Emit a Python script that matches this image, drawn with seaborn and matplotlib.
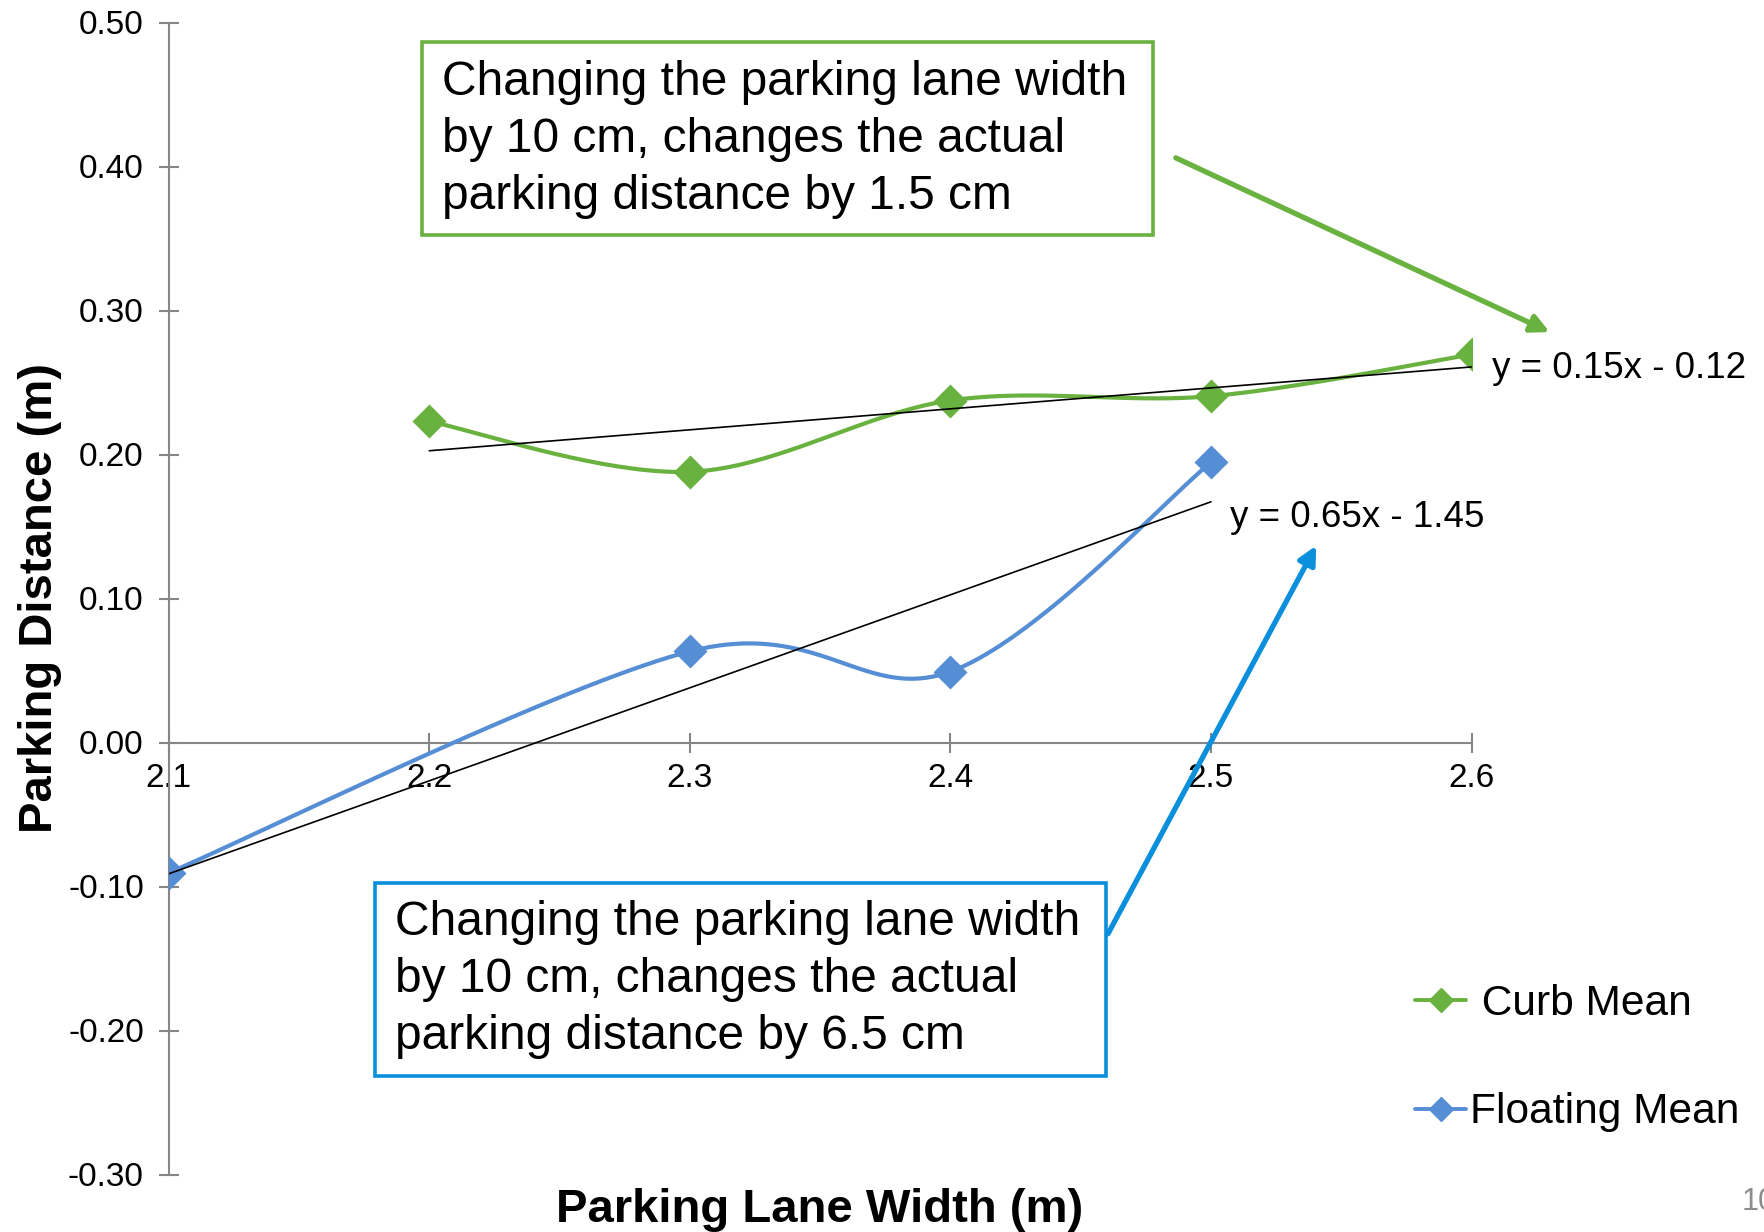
import numpy as np
import pandas as pd
import seaborn as sns
import matplotlib
matplotlib.use("Agg")
import matplotlib.pyplot as plt
from matplotlib.patches import Rectangle
from matplotlib.lines import Line2D

# ---------------- data ----------------
curb_x = [2.2, 2.3, 2.4, 2.5, 2.6]
curb_y = [0.223, 0.188, 0.2375, 0.2405, 0.2695]
float_x = [2.1, 2.3, 2.4, 2.5]
float_y = [-0.0905, 0.0633, 0.0492, 0.1945]
x_ticks = [2.1, 2.2, 2.3, 2.4, 2.5, 2.6]
y_ticks = [-0.30, -0.20, -0.10, 0.00, 0.10, 0.20, 0.30, 0.40, 0.50]
series_names = ["Curb Mean", "Floating Mean"]
curb_eq = "y = 0.15x - 0.12"
float_eq = "y = 0.65x - 1.45"
green_note = "Changing the parking lane width\nby 10 cm, changes the actual\nparking distance by 1.5 cm"
blue_note = "Changing the parking lane width\nby 10 cm, changes the actual\nparking distance by 6.5 cm"

GREEN = "#6AB23F"
BLUE = "#558ED5"
BLUE_BOX = "#0A8FDC"
GREY = "#868686"

sns.set_theme(style="white")
plt.rcParams["font.family"] = ["Liberation Sans", "DejaVu Sans"]
plt.rcParams["text.color"] = "black"
plt.rcParams["axes.labelcolor"] = "black"

fig = plt.figure(figsize=(17.64, 12.32), dpi=100)
ax = fig.add_axes([168.75 / 1764, 1 - 1174.5 / 1232, (1471.5 - 168.75) / 1764, (1174.5 - 22.5) / 1232])


def smooth(xs, ys, n=40):
    """Catmull-Rom style smoothing (as Excel smoothed lines)."""
    P = np.column_stack([xs, ys]).astype(float)
    out = []
    for i in range(len(P) - 1):
        p0 = P[i - 1] if i > 0 else P[i]
        p1 = P[i]
        p2 = P[i + 1]
        p3 = P[i + 2] if i + 2 < len(P) else P[i + 1]
        c1 = p1 + (p2 - p0) / 6.0
        c2 = p2 - (p3 - p1) / 6.0
        t = np.linspace(0, 1, n)[:, None]
        seg = ((1 - t) ** 3) * p1 + 3 * ((1 - t) ** 2) * t * c1 + 3 * (1 - t) * t ** 2 * c2 + t ** 3 * p2
        out.append(seg if i == 0 else seg[1:])
    return np.vstack(out)


for xs, ys, col in [(curb_x, curb_y, GREEN), (float_x, float_y, BLUE)]:
    s = smooth(xs, ys)
    ax.plot(s[:, 0], s[:, 1], color=col, lw=3.0, solid_capstyle="round", zorder=3)
    sns.scatterplot(x=xs, y=ys, ax=ax, marker="D", s=300, color=col, edgecolor=col, linewidth=0, zorder=4)

# linear trendlines
for xs, ys in [(curb_x, curb_y), (float_x, float_y)]:
    k, b = np.polyfit(xs, ys, 1)
    xx = np.array([min(xs), max(xs)])
    ax.plot(xx, k * xx + b, color="black", lw=1.2, zorder=5)

ax.text(2.6078, 0.260, curb_eq, fontsize=26.5, va="center", ha="left", clip_on=False)
ax.text(2.5072, 0.156, float_eq, fontsize=26.5, va="center", ha="left", clip_on=False)

ax.set_xlim(2.1, 2.6)
ax.set_ylim(-0.30, 0.50)
ax.set_xticks(x_ticks)
ax.set_xticklabels([f"{v:.1f}" for v in x_ticks])
ax.set_yticks(y_ticks)
ax.set_yticklabels([f"{v:.2f}" for v in y_ticks])

for sp in ["top", "right"]:
    ax.spines[sp].set_visible(False)
ax.spines["bottom"].set_position(("data", 0))
for sp in ["left", "bottom"]:
    ax.spines[sp].set_color(GREY)
    ax.spines[sp].set_linewidth(1.5)
ax.tick_params(axis="both", bottom=True, left=True, direction="inout", length=14, width=1.5,
               color=GREY, labelsize=24, labelcolor="black")
ax.tick_params(axis="x", pad=8)
ax.tick_params(axis="y", pad=11)
ax.grid(False)
ax.patch.set_alpha(0)

fig.text(820 / 1764, 1 - 1210 / 1232, "Parking Lane Width (m)", fontsize=34, fontweight="bold", ha="center", va="center")
fig.text(40 / 1764, 1 - 598 / 1232, "Parking Distance (m)", fontsize=34, fontweight="bold", ha="center", va="center", rotation=90)

# note boxes
ax.add_patch(Rectangle((2.1971, 0.3523), 2.4778 - 2.1971, 0.4867 - 0.3523, fill=False, edgecolor=GREEN, lw=2.6, zorder=6, clip_on=False))
ax.text(2.2049, 0.4187, green_note, fontsize=34.5, ha="left", va="center", linespacing=1.34, zorder=7)
ax.add_patch(Rectangle((2.179, -0.2313), 2.4597 - 2.179, -0.0977 + 0.2313, fill=False, edgecolor=BLUE_BOX, lw=2.6, zorder=6, clip_on=False))
ax.text(2.1868, -0.1648, blue_note, fontsize=34.5, ha="left", va="center", linespacing=1.34, zorder=7)

# arrows
ax.annotate("", xy=(2.630, 0.285), xytext=(2.4865, 0.406),
            arrowprops=dict(arrowstyle="-|>,head_length=0.9,head_width=0.45", color=GREEN, lw=3.8, shrinkA=0, shrinkB=0),
            annotation_clip=False, zorder=8)
ax.annotate("", xy=(2.5404, 0.1367), xytext=(2.4605, -0.1328),
            arrowprops=dict(arrowstyle="-|>,head_length=0.9,head_width=0.45", color=BLUE_BOX, lw=3.8, shrinkA=0, shrinkB=0),
            annotation_clip=False, zorder=8)

# legend
handles = [Line2D([0], [0], color=GREEN, lw=2.8, marker="D", markersize=12),
           Line2D([0], [0], color=BLUE, lw=2.8, marker="D", markersize=12)]
fig.legend(handles, [" " + series_names[0], series_names[1]], loc="center left",
           bbox_to_anchor=(1415 / 1764, 1 - 1058 / 1232), frameon=False, fontsize=30.6,
           handlelength=1.2, handletextpad=0.1, labelspacing=1.62, borderaxespad=0, borderpad=0)

fig.text(1742 / 1764, 1 - 1202 / 1232, "10", fontsize=22, color="#8C8C8C", ha="left", va="center")

fig.savefig("out.png", dpi=100)
